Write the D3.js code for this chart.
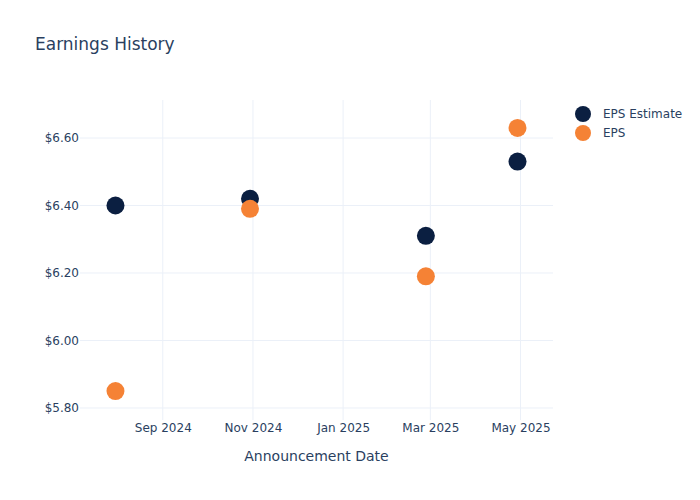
<!DOCTYPE html>
<html>
<head>
<meta charset="utf-8">
<script src="https://cdn.jsdelivr.net/npm/d3@7"></script>
<style>
  body { margin: 0; background: #fff; }
  svg, svg text { font-family: "DejaVu Sans", verdana, arial, sans-serif; }
  .grid line { stroke: #ebf0f8; stroke-width: 1; }
  .tick text { fill: #2a3f5f; font-size: 12px; }
</style>
</head>
<body>
<svg id="chart" width="700" height="500"></svg>
<script>
'use strict'

// announcement dates and values
const dates = ['2024-07-31', '2024-10-30', '2025-02-26', '2025-04-29']
const epsEstimate = [6.40, 6.42, 6.31, 6.53]
const epsActual = [5.85, 6.39, 6.19, 6.63]
const yTicks = [5.8, 6.0, 6.2, 6.4, 6.6]
const xTicks = ['2024-09-01', '2024-11-01', '2025-01-01', '2025-03-01', '2025-05-01']
const seriesNames = ['EPS Estimate', 'EPS']
const seriesColors = ['#0b1f41', '#f58235']

const parse = d3.utcParse('%Y-%m-%d')

const margins = {left: 80, right: 147, top: 100, bottom: 80}
const width = 700 - margins.left - margins.right
const height = 500 - margins.top - margins.bottom

const svg = d3.select('#chart')

const x = d3.scaleUtc()
	.domain([parse('2024-07-07'), parse('2025-05-23')])
	.range([margins.left, margins.left + width])

const y = d3.scaleLinear()
	.domain([5.7644, 6.7126])
	.range([margins.top + height, margins.top])

// gridlines
svg.append('g')
	.attr('class', 'grid')
	.selectAll('line.v')
	.data(xTicks.map(parse))
	.enter().append('line')
	.attr('x1', d => x(d)).attr('x2', d => x(d))
	.attr('y1', margins.top).attr('y2', margins.top + height)

svg.append('g')
	.attr('class', 'grid')
	.selectAll('line.h')
	.data(yTicks)
	.enter().append('line')
	.attr('x1', margins.left).attr('x2', margins.left + width)
	.attr('y1', d => y(d)).attr('y2', d => y(d))

// axes
const xAxis = d3.axisBottom(x)
	.tickValues(xTicks.map(parse))
	.tickFormat(d3.utcFormat('%b %Y'))
	.tickSize(0)
	.tickPadding(3)

svg.append('g')
	.attr('transform', 'translate(0,' + (margins.top + height) + ')')
	.call(xAxis)
	.call(g => g.select('.domain').remove())

const yAxis = d3.axisLeft(y)
	.tickValues(yTicks)
	.tickFormat(d => '$' + d3.format('.2f')(d))
	.tickSize(0)
	.tickPadding(1)

svg.append('g')
	.attr('transform', 'translate(' + margins.left + ',0)')
	.call(yAxis)
	.call(g => g.select('.domain').remove())

// points
const series = [epsEstimate, epsActual]
series.forEach((vals, s) => {
	svg.append('g')
		.selectAll('circle')
		.data(vals)
		.enter().append('circle')
		.attr('cx', (d, i) => x(parse(dates[i])))
		.attr('cy', d => y(d))
		.attr('r', 9)
		.attr('fill', seriesColors[s])
})

// title
svg.append('text')
	.attr('x', 35)
	.attr('y', 50)
	.attr('fill', '#2a3f5f')
	.style('font-size', '17px')
	.text('Earnings History')

// x axis title
svg.append('text')
	.attr('x', margins.left + width / 2)
	.attr('y', 461)
	.attr('text-anchor', 'middle')
	.attr('fill', '#2a3f5f')
	.style('font-size', '14px')
	.text('Announcement Date')

// legend
const legend = svg.append('g')
	.selectAll('g')
	.data(seriesNames)
	.enter().append('g')
	.attr('transform', (d, i) => 'translate(583,' + (114 + i * 19) + ')')

legend.append('circle')
	.attr('r', 8)
	.attr('fill', (d, i) => seriesColors[i])

legend.append('text')
	.attr('x', 20)
	.attr('dy', '0.35em')
	.attr('fill', '#2a3f5f')
	.style('font-size', '12px')
	.text(d => d)
</script>
</body>
</html>
